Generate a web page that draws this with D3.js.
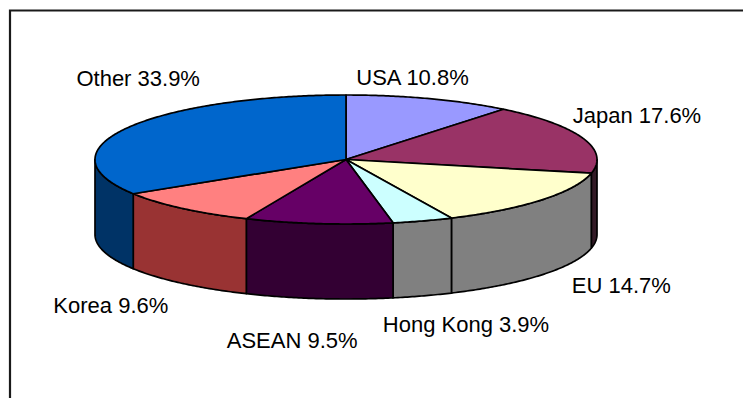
<!DOCTYPE html>
<html>
<head>
<meta charset="utf-8">
<script src="https://cdn.jsdelivr.net/npm/d3@7"></script>
<style>
  html, body { margin: 0; padding: 0; background: #ffffff; }
  svg { display: block; }
</style>
</head>
<body>
<script>
// Export destinations, share of total (%)
const categories = ["USA", "Japan", "EU", "Hong Kong", "ASEAN", "Korea", "Other"];
const shares = [10.8, 17.6, 14.7, 3.9, 9.5, 9.6, 33.9];

// Top face and wall colours for each slice
const topColors  = ["#9999ff", "#993366", "#ffffcc", "#ccffff", "#660066", "#ff8080", "#0066cc"];
const sideColors = ["#4d4d80", "#331a26", "#808080", "#808080", "#330033", "#993333", "#003366"];

// Label nudges (px) away from the default outside position
const labelNudge = [[-27, -1], [26, -16], [56, -4], [34, 7], [-23, 20], [-52, 5], [38, -40]];

const W = 743, H = 398;
const cx = 346, cy = 159.5;     // centre of the top face
const rx = 251, ry = 64.5;      // radii of the top ellipse
const depth = 75;               // wall height

const svg = d3.select("body").append("svg")
  .attr("width", W).attr("height", H);

// Frame (top and left edges)
svg.append("path")
  .attr("d", `M10,${H} L10,10.5 L${W},10.5`)
  .attr("fill", "none").attr("stroke", "#1a1a1a").attr("stroke-width", 2.2);

const pie = d3.pie().sort(null).value(d => d.value);
const arcs = pie(categories.map((c, i) => ({ name: c, value: shares[i], i })));

// Point on the ellipse for an angle measured clockwise from 12 o'clock
const pt = (a, dy = 0) => [cx + rx * Math.sin(a), cy - ry * Math.cos(a) + dy];
const line = d3.line();
const sample = (a0, a1) => {
  const n = Math.max(2, Math.ceil(Math.abs(a1 - a0) / 0.01));
  return d3.range(n + 1).map(k => a0 + (a1 - a0) * k / n);
};

// Walls: only the front half (90° .. 270°) is visible
const front0 = Math.PI / 2, front1 = 3 * Math.PI / 2;
const walls = svg.append("g");
arcs.forEach(d => {
  const a0 = Math.max(d.startAngle, front0), a1 = Math.min(d.endAngle, front1);
  if (a1 <= a0) return;
  const angles = sample(a0, a1);
  const pts = angles.map(a => pt(a)).concat(angles.slice().reverse().map(a => pt(a, depth)));
  walls.append("path")
    .attr("d", line(pts) + "Z")
    .attr("fill", sideColors[d.data.i])
    .attr("stroke", "#000").attr("stroke-width", 1.7).attr("stroke-linejoin", "round");
});

// Top faces
const tops = svg.append("g");
arcs.forEach(d => {
  const pts = [[cx, cy]].concat(sample(d.startAngle, d.endAngle).map(a => pt(a)));
  tops.append("path")
    .attr("d", line(pts) + "Z")
    .attr("fill", topColors[d.data.i])
    .attr("stroke", "#000").attr("stroke-width", 1.7).attr("stroke-linejoin", "round");
});

// Labels: category and share, placed outside each slice
const labels = svg.append("g")
  .attr("font-family", "'Liberation Sans', Arial, sans-serif")
  .attr("font-size", 22)
  .attr("fill", "#000")
  .attr("text-anchor", "middle");
arcs.forEach(d => {
  const m = (d.startAngle + d.endAngle) / 2;
  const s = Math.sin(m), c = Math.cos(m);
  const x = cx + (rx + 30) * s + labelNudge[d.data.i][0];
  const y = cy + (c < 0 ? depth : 0) - (ry + 22) * c + labelNudge[d.data.i][1];
  labels.append("text")
    .attr("x", x).attr("y", y + 8)
    .text(`${d.data.name} ${d.data.value.toFixed(1)}%`);
});
</script>
</body>
</html>
